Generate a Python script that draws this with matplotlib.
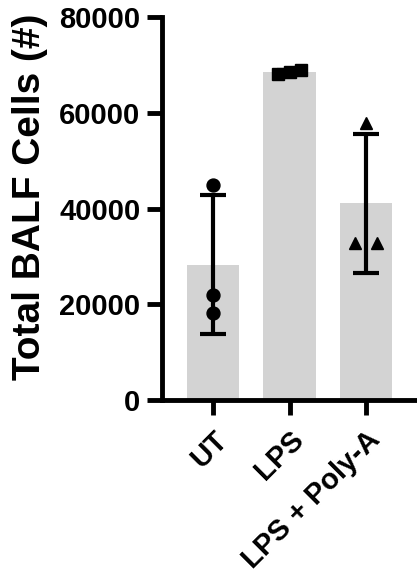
import numpy as np
import matplotlib
matplotlib.use('Agg')
import matplotlib.pyplot as plt

# values
groups = ['UT', 'LPS', 'LPS + Poly-A']
ut = [44900, 21900, 18100]
lps = [68000, 68500, 68900]
lps_polya = [57800, 32700, 32700]
yticks = [0, 20000, 40000, 60000, 80000]

plt.rcParams['font.family'] = ['Liberation Sans', 'DejaVu Sans']
plt.rcParams['font.weight'] = 'bold'

data = [ut, lps, lps_polya]
means = [np.mean(d) for d in data]
sds = [np.std(d, ddof=1) for d in data]
xpos = np.arange(len(groups))

fig = plt.figure(figsize=(4.17, 5.74), dpi=100)
ax = fig.add_axes([0.3885, 0.3031, 0.6115, 0.6673])

ax.bar(xpos, means, width=0.68, color='#d3d3d3', zorder=1)
ax.errorbar(xpos, means, yerr=sds, fmt='none', ecolor='black',
            elinewidth=3, capsize=9.5, capthick=3, zorder=2)

# small horizontal spread of the points, like the original scatter
spread = [[0, 0, 0], [-0.155, 0, 0.155], [0, -0.145, 0.145]]
markers = ['o', 's', '^']
for i, d in enumerate(data):
    ax.plot(xpos[i] + np.array(spread[i]), d, linestyle='none',
            marker=markers[i], markersize=9.3, color='black', zorder=3)

ax.set_xlim(-0.667, 2.667)
ax.set_ylim(0, 80000)
ax.set_yticks(yticks)
ax.set_yticklabels([str(t) for t in yticks])
ax.set_xticks(xpos)
ax.set_xticklabels(groups, rotation=45, ha='right', rotation_mode='anchor')

for s in ['top', 'right']:
    ax.spines[s].set_visible(False)
for s in ['left', 'bottom']:
    ax.spines[s].set_linewidth(3.5)
ax.tick_params(axis='both', width=3.5, length=10.5, labelsize=21, pad=5)
ax.tick_params(axis='x', pad=8)
for lab in ax.get_xticklabels() + ax.get_yticklabels():
    lab.set_fontweight('bold')

ax.set_ylabel('Total BALF Cells (#)', fontsize=28, fontweight='bold',
              labelpad=8, y=0.53)

fig.savefig('out.png', dpi=100)
